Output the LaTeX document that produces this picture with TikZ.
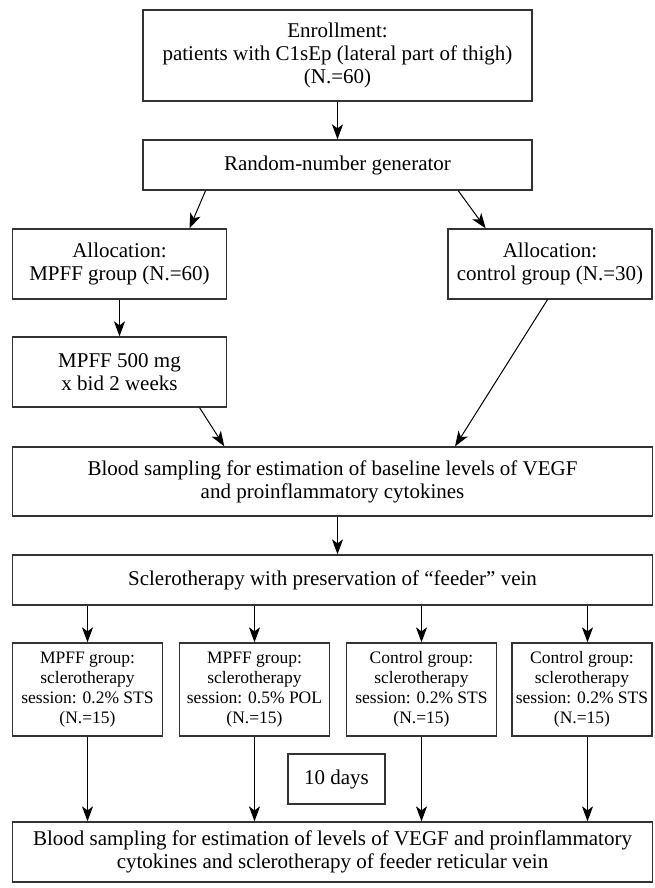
\documentclass[tikz,border=0pt]{standalone}
\usepackage{fontspec}
\setmainfont{Liberation Serif}
\usetikzlibrary{arrows.meta,calc}

\begin{document}
\begin{tikzpicture}[
    x=1pt, y=-1pt,
    box/.style={draw=black!80,line width=1.3pt,align=center,inner sep=2pt,
        font=\fontsize{21}{23}\selectfont},
    group box/.style={box,font=\fontsize{17.5}{20}\selectfont,
        minimum width=150pt,minimum height=93pt},
    flow/.style={-{Stealth[length=15pt,width=11pt,inset=4pt]},line width=1pt,black}
]
\useasboundingbox (0,0) rectangle (654,888);

% Enrollment and randomisation
\node[box,minimum width=389pt,minimum height=91pt] (enroll) at (337.5,55.5)
    {Enrollment:\\patients with C1sEp (lateral part of thigh)\\(N.=60)};
\node[box,minimum width=389pt,minimum height=50pt] (rng) at (337.5,165)
    {Random-number generator};

% Allocation
\node[box,minimum width=213.5pt,minimum height=70pt] (allocM) at (119.5,264)
    {Allocation:\\MPFF group (N.=60)};
\node[box,minimum width=204pt,minimum height=70pt] (allocC) at (550,264)
    {Allocation:\\control group (N.=30)};
\node[box,minimum width=213.5pt,minimum height=70pt] (mpff) at (119.5,372)
    {MPFF 500 mg\\x bid 2 weeks};

% Baseline sampling and sclerotherapy
\node[box,minimum width=639.5pt,minimum height=69pt] (base) at (332.5,481.5)
    {Blood sampling for estimation of baseline levels of VEGF\\and proinflammatory cytokines};
\node[box,minimum width=639.5pt,minimum height=50pt] (sclero) at (332.5,580)
    {Sclerotherapy with preservation of “feeder” vein};

% The four sessions
\node[group box] (g1) at (87.5,689.5)
    {MPFF group:\\sclerotherapy\\session: 0.2\% STS\\(N.=15)};
\node[group box] (g2) at (254.5,689.5)
    {MPFF group:\\sclerotherapy\\session: 0.5\% POL\\(N.=15)};
\node[group box] (g3) at (421.5,689.5)
    {Control group:\\sclerotherapy\\session: 0.2\% STS\\(N.=15)};
\node[group box,minimum width=140pt] (g4) at (582,689.5)
    {Control group:\\sclerotherapy\\session: 0.2\% STS\\(N.=15)};

\node[box,minimum width=97pt,minimum height=50pt] (days) at (336.5,779) {10 days};

% Final sampling
\node[box,minimum width=639.5pt,minimum height=60pt] (final) at (332.5,852)
    {Blood sampling for estimation of levels of VEGF and proinflammatory\\cytokines and sclerotherapy of feeder reticular vein};

% Arrows
\draw[flow] (enroll) -- (rng);
\draw[flow] (rng.191.3) -- (allocM.27);
\draw[flow] (rng.348.8) -- (allocC.151);
\draw[flow] (allocM) -- (mpff);
\draw[flow] (mpff.336.5) -- (base.162);
\draw[flow] (allocC.266.7) -- (base.16.5);
\draw[flow] (base.south -| enroll.south) -- (sclero.north -| enroll.south);
\foreach \g in {g1,g2,g3}
    \draw[flow] (sclero.south -| \g.north) -- (\g.north);
\foreach \g in {g1,g2,g3}
    \draw[flow] (\g.south) -- (final.north -| \g.south);
\coordinate (g4in) at ($(g4.north)+(5.5,0)$);
\coordinate (g4out) at ($(g4.south)+(5.5,0)$);
\draw[flow] (sclero.south -| g4in) -- (g4in);
\draw[flow] (g4out) -- (final.north -| g4out);

\end{tikzpicture}
\end{document}
